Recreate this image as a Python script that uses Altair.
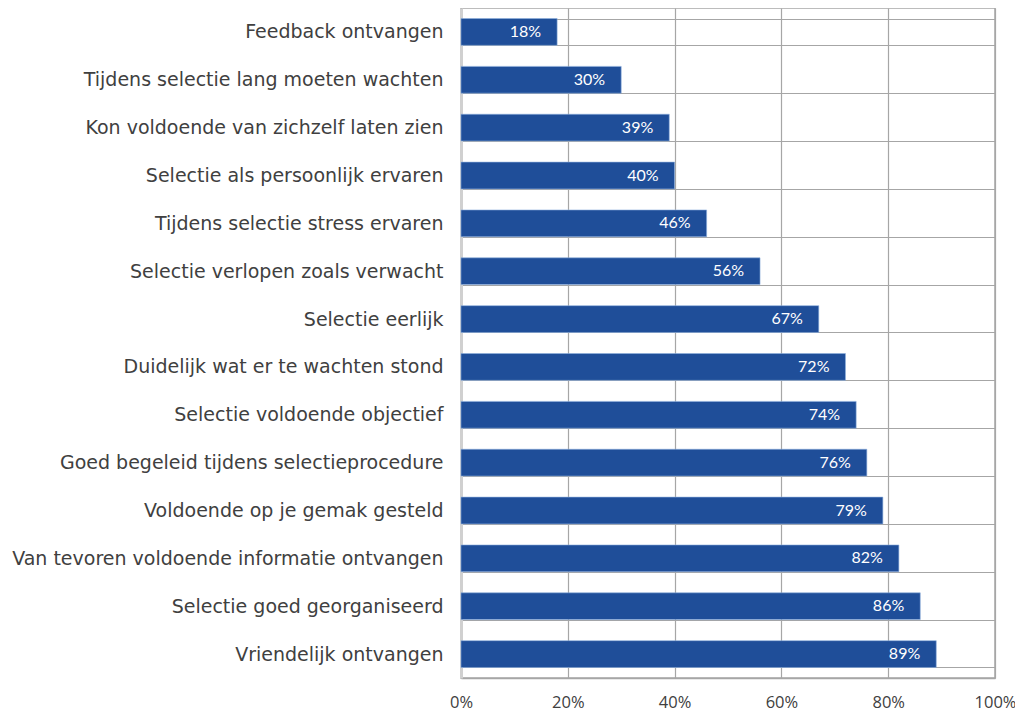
import altair as alt
import pandas as pd

categories = [
    "Feedback ontvangen",
    "Tijdens selectie lang moeten wachten",
    "Kon voldoende van zichzelf laten zien",
    "Selectie als persoonlijk ervaren",
    "Tijdens selectie stress ervaren",
    "Selectie verlopen zoals verwacht",
    "Selectie eerlijk",
    "Duidelijk wat er te wachten stond",
    "Selectie voldoende objectief",
    "Goed begeleid tijdens selectieprocedure",
    "Voldoende op je gemak gesteld",
    "Van tevoren voldoende informatie ontvangen",
    "Selectie goed georganiseerd",
    "Vriendelijk ontvangen",
]
values = [18, 30, 39, 40, 46, 56, 67, 72, 74, 76, 79, 82, 86, 89]
x_ticks = [0, 20, 40, 60, 80, 100]

df = pd.DataFrame({"cat": categories, "val": [v / 100 for v in values]})
df["lbl"] = [f"{v}%" for v in values]

y_enc = alt.Y(
    "cat:N",
    sort=categories,
    title=None,
    scale=alt.Scale(paddingInner=0.44, paddingOuter=0.22),
    axis=alt.Axis(
        tickBand="extent",
        grid=True,
        gridColor="#a6a6a6",
        gridWidth=1.2,
        ticks=False,
        domainColor="#d0d0d0",
        domainWidth=3,
        labelFont="DejaVu Sans",
        labelFontSize=19,
        labelColor="#404040",
        labelPadding=18,
        labelLimit=600,
    ),
)

bars = alt.Chart(df).mark_bar(color="#1F4E99", stroke="#8fb0dd", strokeWidth=0.6).encode(
    x=alt.X(
        "val:Q",
        title=None,
        scale=alt.Scale(domain=[0, 1], nice=False),
        axis=alt.Axis(
            values=[t / 100 for t in x_ticks],
            format=".0%",
            grid=True,
            gridColor="#a6a6a6",
            gridWidth=1.2,
            ticks=False,
            domainColor="#a6a6a6",
            domainWidth=1.5,
            labelFlush=False,
            labelFont="Open Sans",
            labelFontSize=16.5,
            labelColor="#404040",
            labelPadding=16,
        ),
    ),
    y=y_enc,
)

text = alt.Chart(df).mark_text(
    align="right", baseline="middle", dx=-16, color="white",
    font="Lato", fontSize=16
).encode(
    x="val:Q",
    y=alt.Y("cat:N", sort=categories),
    text="lbl:N",
)

chart = (
    alt.layer(bars, text)
    .properties(
        width=534,
        height=670,
        autosize="none",
        padding={"left": 453, "top": 0, "right": 20, "bottom": 38},
    )
    .configure_view(stroke="#a6a6a6", strokeWidth=1.5)
)

chart.save("out.html", embed_options={"renderer": "svg", "actions": False})
